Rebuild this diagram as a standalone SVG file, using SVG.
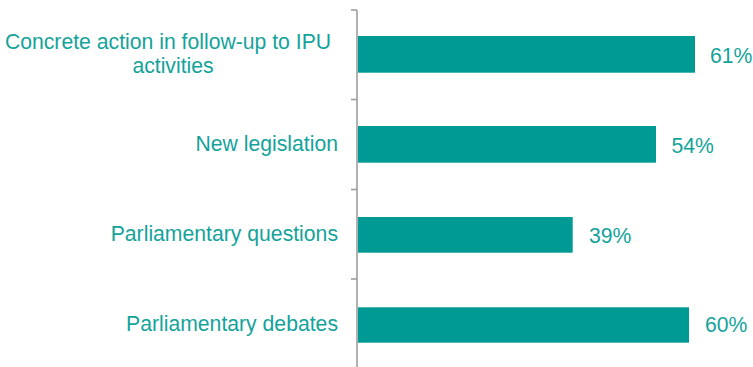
<svg xmlns="http://www.w3.org/2000/svg" width="753" height="367" viewBox="0 0 753 367">
<style>
.bar{fill:#009A94}
.lbl{font-family:"Liberation Sans",Arial,sans-serif;font-size:21.2px;fill:#14A39B}
.cat{text-anchor:end}
.ax{stroke:#9E9E9E;stroke-width:1.6;fill:none}
</style>
<rect width="753" height="367" fill="#fff"/>
<g id="axis">
<line class="ax" x1="357" y1="10" x2="357" y2="368"/>
<line class="ax" x1="351" y1="10" x2="357" y2="10"/>
<line class="ax" x1="351" y1="99.5" x2="357" y2="99.5"/>
<line class="ax" x1="351" y1="189.5" x2="357" y2="189.5"/>
<line class="ax" x1="351" y1="279" x2="357" y2="279"/>
</g>
<g id="bar1">
<rect class="bar" x="358" y="36" width="337" height="36.7"/>
<text class="lbl" x="710" y="63">61%</text>
<text class="lbl" x="168" y="49.3" text-anchor="middle">Concrete action in follow-up to IPU</text>
<text class="lbl" x="173" y="73.3" text-anchor="middle">activities</text>
</g>
<g id="bar2">
<rect class="bar" x="358" y="126" width="298" height="36.7"/>
<text class="lbl" x="671.5" y="153">54%</text>
<text class="lbl cat" x="338" y="151">New legislation</text>
</g>
<g id="bar3">
<rect class="bar" x="358" y="217" width="214.7" height="35.7"/>
<text class="lbl" x="589" y="242.7">39%</text>
<text class="lbl cat" x="338" y="241">Parliamentary questions</text>
</g>
<g id="bar4">
<rect class="bar" x="358" y="307.3" width="331" height="35.4"/>
<text class="lbl" x="705" y="332">60%</text>
<text class="lbl cat" x="338" y="331">Parliamentary debates</text>
</g>
</svg>
